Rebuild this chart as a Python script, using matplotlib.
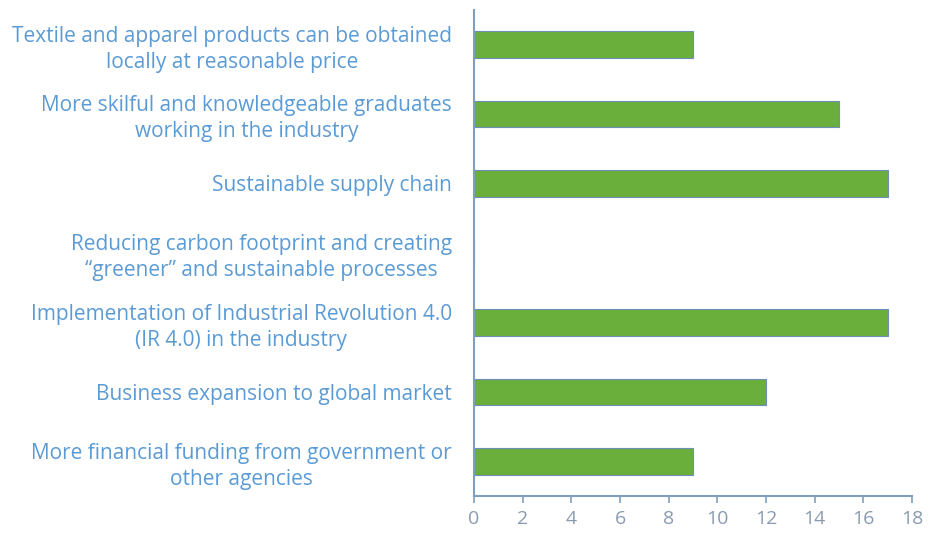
import matplotlib.pyplot as plt

# Survey responses per factor (top to bottom)
factors = [
    "Textile and apparel products can be obtained\nlocally at reasonable price",
    "More skilful and knowledgeable graduates\nworking in the industry",
    "Sustainable supply chain",
    "Reducing carbon footprint and creating\n\u201cgreener\u201d and sustainable processes",
    "Implementation of Industrial Revolution 4.0\n(IR 4.0) in the industry",
    "Business expansion to global market",
    "More financial funding from government or\nother agencies",
]
counts = [9, 15, 17, 0, 17, 12, 9]
xticks = [0, 2, 4, 6, 8, 10, 12, 14, 16, 18]

label_color = "#5b9bd5"
axis_color = "#7f9fc0"

fig = plt.figure(figsize=(9.3, 5.41), dpi=100)
ax = fig.add_axes([0.5097, 0.083, 0.471, 0.899])

ypos = list(range(len(factors)))
ax.barh(ypos, counts, height=0.38, color="#6aae3c", edgecolor="#6d8fb8", linewidth=0.8)

ax.set_ylim(len(factors) - 0.5, -0.5)
ax.set_xlim(0, 18)
ax.set_xticks(xticks)
ax.set_yticks(ypos)
ax.set_yticklabels(factors, fontsize=15, color=label_color, family="Open Sans")
for lbl in ax.get_yticklabels():
    lbl.set_multialignment("center")
    lbl.set_linespacing(1.3)
ax.tick_params(axis="y", length=0, pad=16)
ax.tick_params(axis="x", direction="out", length=5, width=1.2, color=axis_color,
               labelsize=14, labelcolor="#8a9bb0", pad=5)
for lbl in ax.get_xticklabels():
    lbl.set_family("Open Sans")

for side in ("top", "right"):
    ax.spines[side].set_visible(False)
for side in ("left", "bottom"):
    ax.spines[side].set_color(axis_color)
    ax.spines[side].set_linewidth(1.5)

fig.savefig("out.png", dpi=100)
